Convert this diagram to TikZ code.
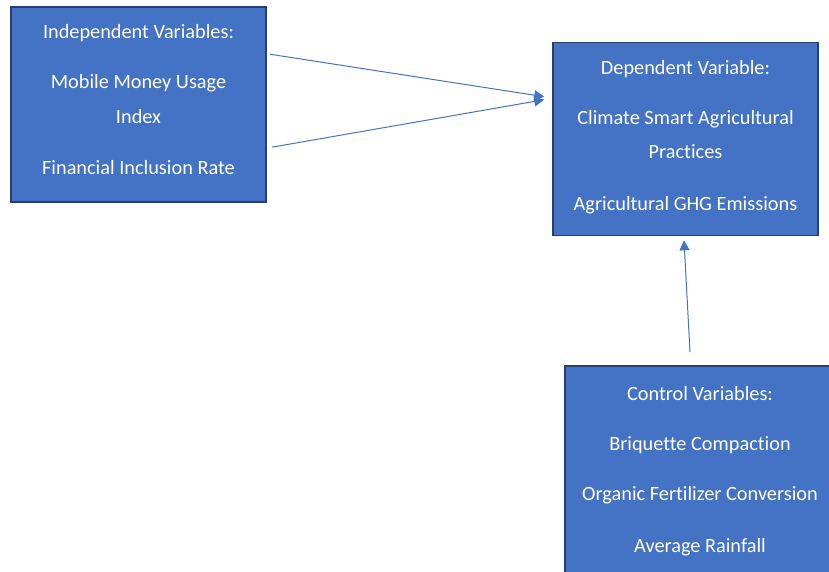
\documentclass[tikz,border=0pt]{standalone}
\usepackage{fontspec}
\setmainfont{Carlito}[Ligatures={NoCommon}]
\usetikzlibrary{arrows.meta,calc}
\definecolor{boxfill}{HTML}{4472C4}
\definecolor{boxline}{HTML}{253F6E}
\definecolor{arrowcol}{HTML}{4472C4}
\begin{document}
\begin{tikzpicture}[x=1pt,y=-1pt,
  varbox/.style={draw=boxline, line width=1.6pt, fill=boxfill, inner sep=0pt},
  line/.style={text=white, font=\fontsize{20.3}{24}\selectfont, anchor=base, inner sep=0pt},
  link/.style={draw=arrowcol, line width=1pt, -{Triangle[length=10pt,width=10pt]}}]
\useasboundingbox (0,0) rectangle (829,572);
\clip (0,0) rectangle (829,572);

% Independent variables
\node[varbox, minimum width=255, minimum height=195] (indep) at (138.5,104.5) {};
\node[line] (i1) at (138.5,39)  {Independent Variables:};
\node[line] (i2) at (138.5,89)  {Mobile Money Usage};
\node[line] (i3) at (138.5,124) {Index};
\node[line] (i4) at (138.5,175) {Financial Inclusion Rate};

% Dependent variable
\node[varbox, minimum width=265, minimum height=193] (dep) at (685.5,139) {};
\node[line] (d1) at (685.5,75)  {Dependent Variable:};
\node[line] (d2) at (685.5,125) {Climate Smart Agricultural};
\node[line] (d3) at (685.5,159) {Practices};
\node[line] (d4) at (685.5,210) {Agricultural GHG Emissions};

% Control variables (runs past the page edge)
\node[varbox, minimum width=270, minimum height=230] (ctrl) at (700,481) {};
\node[line] (c1) at (700,400) {Control Variables:};
\node[line] (c2) at (700,450) {Briquette Compaction};
\node[line] (c3) at (700,500) {Organic Fertilizer Conversion};
\node[line] (c4) at (700,552) {Average Rainfall};

% Connector ends
\coordinate (a1s) at ($(indep.north east)+(3,48)$);
\coordinate (a2s) at ($(indep.north east)+(5,141)$);
\coordinate (a1e) at ($(dep.north west)+(-8,55)$);
\coordinate (a2e) at ($(dep.north west)+(-8,58)$);
\coordinate (a3s) at ($(ctrl.north)+(-10,-13)$);
\coordinate (a3e) at ($(dep.south)+(-1.5,4)$);

\draw[link] (a1s) -- (a1e);
\draw[link] (a2s) -- (a2e);
\draw[link] (a3s) -- (a3e);
\end{tikzpicture}
\end{document}
